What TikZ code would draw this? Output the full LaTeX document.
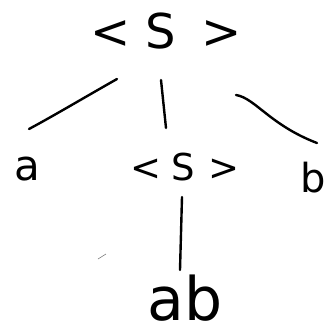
\documentclass[tikz,border=0pt]{standalone}
\usepackage{fontspec}
\setmainfont{DejaVu Sans}
\begin{document}
\begin{tikzpicture}[x=1pt,y=-1pt,
  sym/.style={inner sep=0pt, anchor=base},
  edge/.style={line width=2.4pt, line cap=round, black}]
\useasboundingbox (0,0) rectangle (329,335);
\node[sym, font=\fontsize{48}{50}\selectfont] (root) at (166,48) {<\hspace{15pt}S\hspace{25pt}>};
\node[sym, font=\fontsize{42}{44}\selectfont] (a) at (27,180) {a};
\node[sym, font=\fontsize{37}{40}\selectfont] (mid) at (185,180) {<\hspace{10pt}S\hspace{14pt}>};
\node[sym, font=\fontsize{40}{42}\selectfont] (b) at (313,192) {b};
\node[sym, font=\fontsize{60}{62}\selectfont] (ab) at (185,320) {ab};
\coordinate (l1) at (117,79);  \coordinate (l2) at (29,129);
\coordinate (m1) at (161,80);  \coordinate (m2) at (166,128);
\coordinate (r1) at (236,95);  \coordinate (r2) at (317,143);
\coordinate (v1) at (182,197); \coordinate (v2) at (180,270);
\draw[edge] (l1) .. controls (80,100) and (55,115) .. (l2);
\draw[edge] (m1) -- (m2);
\draw[edge] (r1) .. controls (255,98) and (270,125) .. (r2);
\draw[edge] (v1) -- (v2);
\coordinate (s1) at (98,259); \coordinate (s2) at (106,254);
\draw[line width=0.6pt, gray] (s1) -- (s2);
\end{tikzpicture}
\end{document}
